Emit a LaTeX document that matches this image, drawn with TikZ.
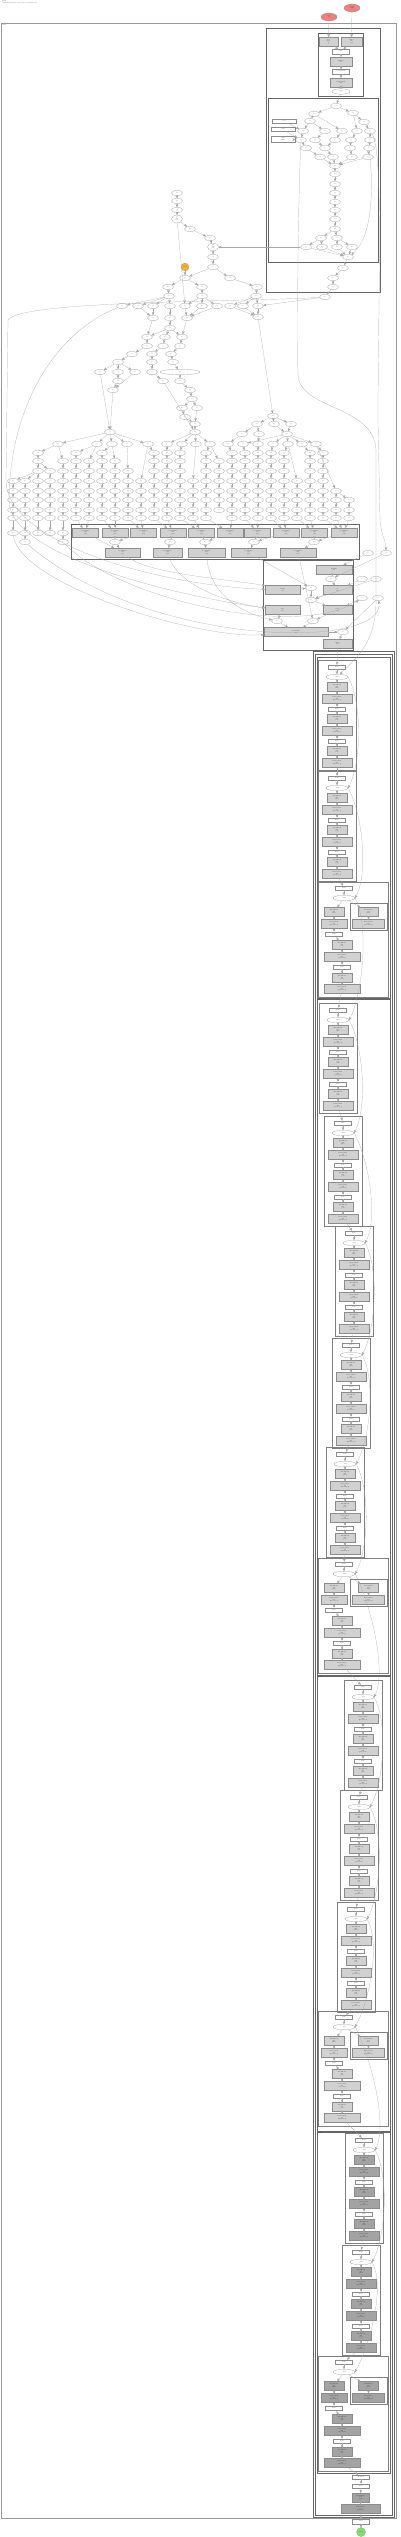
\documentclass[tikz,border=0pt]{standalone}
\usetikzlibrary{arrows,shapes.geometric}
\definecolor{incol}{HTML}{F08080}
\definecolor{outcol}{HTML}{7FE06A}
\definecolor{savecol}{HTML}{F2B233}
\tikzset{
  tiny/.style={font=\fontsize{1.2}{1.4}\selectfont},
  op/.style={ellipse,draw=black!45,line width=.2pt,fill=white,inner sep=0pt,
    minimum width=11pt,minimum height=5.5pt,tiny,align=center},
  tag/.style={rectangle,draw=black!45,line width=.2pt,fill=white,inner sep=0pt,
    minimum width=17pt,minimum height=4.5pt,tiny,align=center},
  par/.style={rectangle,draw=black!45,line width=.2pt,fill=black!18,inner sep=0pt,
    minimum width=20pt,minimum height=9pt,tiny,align=center},
  wire/.style={->,>=stealth',draw=black!35,line width=.2pt},
  group/.style={draw=black!60,line width=.35pt},
  frame/.style={draw=black!40,line width=.9pt},
  glabel/.style={anchor=north west,inner sep=.4pt,tiny}
}
\begin{document}
\begin{tikzpicture}[x=1pt,y=-1pt]
\useasboundingbox (0,0) rectangle (400,2537);

\node[glabel,align=left] (title) at (1.5,0.5) {graph\\computation graph of the model, backward pass};

% frames
\draw[frame] (1,23) rectangle (396,2518);
\node[glabel] (lmain) at (2,24) {main};
\draw[group] (266,28) rectangle (380,292);
\node[glabel] (lc1) at (266,28) {loss};
\draw[group] (318,33) rectangle (363,96);
\node[glabel] (ls1) at (318,33) {criterion};
\draw[group] (268,98) rectangle (378,262);
\node[glabel] (lc2) at (268,98) {head};
\draw[group] (71,524) rectangle (359,559);
\node[glabel] (lh) at (71,524) {params};
\draw[group] (263,560) rectangle (353,650);
\node[glabel] (lr) at (263,560) {fc};
\draw[group] (313,651) rectangle (394,2517);
\draw[group] (315,654) rectangle (392,2515);
\foreach \ya/\yb/\nm in {657/998/layer4, 999.5/1675/layer3, 1676.5/2131/layer2, 2132.5/2473/layer1}{
  \draw[group] (317,\ya) rectangle (390,\yb);
  \node[glabel] (l\nm) at (317,\ya) {\nm};
}

% inputs
\node[op,fill=incol,minimum width=16pt,minimum height=8pt] (inA) at (352,8) {target\\(64)};
\node[op,fill=incol,minimum width=16pt,minimum height=8pt] (inB) at (329,17) {loss\\()};

% criterion
\node[par,minimum width=19pt] (sp1) at (328.5,41.5) {grad\\f32\\()};
\node[par,minimum width=21pt] (sp2) at (351.5,41.5) {target\\i64\\(64)};
\node[tag] (sw1) at (341,51.5) {Nll};
\node[par,minimum width=22pt] (sp3) at (341,61.5) {NllLoss\\f32};
\node[tag] (sw2) at (341,71.5) {LogSoftmax};
\node[par,minimum width=22pt] (sp4) at (341,82.5) {LogSoftmax\\f32};
\node[op,minimum width=18pt] (se1) at (341,91.5) {logits};

% head nodes
\foreach \n/\x/\y in {z1/336/106, z2/314/114, z3/353/113, z4/310/121, z5/364/122,
  z6/303/131, z7/325/131, z8/342/131, z9/357/131, z10/370/131,
  z11/301/140, z12/315/140, z13/335/140, z14/351/140, z15/370/140,
  z16/306/148, z17/325/148, z18/350/148, z19/369/148,
  z20/320/157, z21/333/157, z22/352/157, z23/368/157,
  z24/335/166, z25/335/174, z26/335/184, z27/335/193, z28/335/202,
  z29/335/210, z30/335/219, z31/335/229, z32/321/238, z33/337/238,
  z34/306/247, z35/322/247, z36/337/247, z37/352/247, z38/348/257,
  y1/343/268, y2/333/278, y3/333/287, cout/325/297}
  \node[op] (\n) at (\x,\y) {op};
\node[tag,minimum width=24pt,minimum height=4pt] (zb1) at (284,121) {const};
\node[tag,minimum width=24pt,minimum height=4pt] (zb2) at (283,129.5) {const};
\node[tag,minimum width=24pt,minimum height=6pt] (zb3) at (283,139) {const\\mask};

\foreach \a/\b in {inB/sp1, inA/sp2, sp1/sw1, sp2/sw1, sw1/sp3, sp3/sw2, sw2/sp4, sp4/se1, se1/z1,
  z1/z2, z1/z3, z2/z4, z3/z5, z4/z6, z4/z7, z2/z8, z3/z9, z5/z10, zb1/z6, zb2/z11, zb3/z11,
  z6/z11, z7/z12, z8/z13, z9/z14, z10/z15, z11/z16, z12/z17, z13/z17, z14/z18, z15/z19,
  z16/z20, z17/z21, z18/z22, z19/z23, z20/z24, z21/z24, z22/z24, z23/z24,
  z24/z25, z25/z26, z26/z27, z27/z28, z28/z29, z29/z30, z30/z31, z31/z32, z31/z33,
  z32/z34, z32/z35, z33/z36, z33/z37, z34/z38, z35/z38, z36/z38, z37/z38,
  z38/y1, y1/y2, y2/y3, y3/cout}
  \draw[wire] (\a) -- (\b);

% main graph
\foreach \n/\x/\y in {in1/177/193, in2/177/201, in3/177/210, s1/190/229, s2/210/238,
  s4/213/257, s5/213/267, t1/185/278, t2/230/278, u1/168/287, u2/202/287, u3/257/287,
  v1/169/296, v2/202/296, v3/256/296, f1/122/306, f2/138/306, f3/153/306, f4/170/306,
  f5/185/306, f6/202/306, f7/217/306, f8/230/306, f9/243/306, f10/258/306,
  g1/153/318, g2/170/318, g3/187/318, g4/258/317, h1/170/328,
  i1/147/337, i2/165/337, i3/182/337, j1/147/346, j2/163/346, j3/180/346,
  k1/132/354, k2/152/354, k3/171/354, l1/118/362, l2/152/362, l3/173/362,
  m1/100/372, m2/118/372, m3/135/372, m4/152/372, n1/118/381, n2/163/381, n3/180/381,
  o1/113/390, o2/190/390, p1/192/399, q1/182/408, q2/197/408, r1/185/417, x1/195/424,
  ma/110/432, mb/195/432, ra/273/416, rb/257/424, rc/274/424, rd/291/424,
  re/242/434, rf/259/434, mc/287/434}
  \node[op] (\n) at (\x,\y) {op};
\node[op,minimum height=8pt] (in4) at (177,219) {op\\f32\\(64)};
\node[op,minimum height=8pt] (s3) at (213,247) {op\\f32\\(64)};
\node[op,minimum width=40pt] (m5) at (180,372) {op};
\node[circle,draw=black!45,line width=.2pt,fill=savecol,minimum size=8pt,inner sep=0pt,tiny] (w0) at (185,267) {saved};

\foreach \a/\b in {in1/in2, in2/in3, in3/in4, in4/s1, s1/s2, s2/s3, s3/s4, s4/s5, s5/t1, s5/t2,
  w0/t1, t1/u1, t1/u2, t2/u3, u1/v1, u2/v2, u3/v3, v1/f1, v1/f2, v1/f3, v1/f4, v2/f5, v2/f6,
  v2/f7, v3/f8, v3/f9, v3/f10, in4/f5, f2/g1, f3/g1, f4/g2, f5/g3, f6/g3, f7/g3, f8/g4, f9/g4,
  f10/g4, g2/h1, g1/i1, g3/i3, h1/i1, h1/i2, h1/i3, i1/j1, i2/j2, i3/j3, j1/k1, j2/k2, j3/k3,
  k1/l1, k2/l2, k3/l3, l1/m1, l1/m2, l1/m3, l2/m4, l3/m5, m2/n1, m4/n2, m5/n3, n1/o1, m3/o1,
  n3/o2, o2/p1, p1/q1, p1/q2, q1/r1, r1/x1, q2/x1, o1/ma, m1/ma, x1/mb, n2/mb,
  g4/ra, ra/rb, ra/rc, ra/rd, rb/re, rb/rf, rc/mc, rd/mc, z34/s3, cout/f10}
  \draw[wire] (\a) -- (\b);

% heads and columns
\foreach \x in {58,97,112,127,148,167,182,196,210,228,243,258,273,288,302,316}
  \node[op] (h\x) at (\x,444) {op};
\foreach \a/\b in {ma/h58, ma/h97, ma/h112, ma/h127, ma/h148, mb/h167, mb/h182, mb/h196,
  mb/h210, re/h228, mc/h243, rf/h258, mc/h273, mc/h288, mc/h302, mc/h316}
  \draw[wire] (\a) -- (\b);

\def\rowy{{444,453,461,471,481,491,500,510,518,533,542}}
\foreach \cc/\pp/\ss/\ee in {38/h58/1/9, 13/c38-3/4/9, 25/c38-3/4/10, 50/c38-2/3/9, 63/h58/2/10,
  76/h97/1/8, 89/h97/2/8, 102/h112/1/8, 115/h112/2/8, 128/h127/3/8, 141/h148/4/8,
  154/h148/1/8, 167/h167/1/8, 180/h182/1/8, 193/h196/4/8, 206/h210/1/8, 219/h210/2/7,
  232/h228/1/8, 245/h243/1/8, 258/h258/1/8, 271/h273/1/8, 284/h288/1/8, 297/h288/4/8,
  310/h302/1/8, 323/h316/1/8, 336/h316/5/8, 349/c336-5/6/8}{
  \foreach \ii [remember=\ii as \jj (initially 0)] in {\ss,...,\ee}{
    \pgfmathsetmacro\yy{\rowy[\ii]}
    \node[op] (c\cc-\ii) at (\cc,\yy) {op};
    \ifnum\ii=\ss\relax
      \draw[wire] (\pp) -- (c\cc-\ii);
    \else
      \draw[wire] (c\cc-\jj) -- (c\cc-\ii);
    \fi
  }
}

% parameter group
\foreach \ii/\x in {1/85.5,2/115,3/143.5,4/173,5/201.5,6/230,7/257.5,8/286,9/314.5,10/344}
  \node[par,minimum width=26pt] (ht\ii) at (\x,532.5) {Accumulate\\f32\\(64)};
\foreach \ii/\x in {1/115,2/170,3/205,4/254,5/314}
  \node[op] (he\ii) at (\x,542) {op};
\foreach \ii/\x/\ww in {1/122.5/35,2/167.5/29,3/206.5/37,4/248.5/35,5/298/36}
  \node[par,minimum width=\ww pt] (hb\ii) at (\x,552.5) {Accumulate\\f32\\(64)};
\foreach \a/\b in {76/1,89/1,102/2,115/2,128/3,141/3,154/4,167/4,180/5,193/5,206/6,232/6,
  245/7,258/7,271/8,284/8,297/9,310/9,323/10,336/10,349/10}
  \draw[wire] (c\a-8) -- (ht\b);
\foreach \a/\b in {ht1/hb1, ht2/he1, ht3/he1, he1/hb1, ht4/he2, he2/hb2, ht5/he3, ht6/he3,
  he3/hb3, ht7/he4, ht8/he4, he4/hb4, ht9/he5, ht10/he5, he5/hb5}
  \draw[wire] (\a) -- (\b);

% fc group
\node[par,minimum width=36pt] (rg1) at (334,569.5) {Addmm\\f32};
\node[op] (rl1) at (331,579) {op};
\node[par,minimum width=35pt] (rg2) at (282.5,590) {weight\\f32};
\node[op] (rl2) at (311,588) {op};
\node[par,minimum width=29pt] (rg3) at (337.5,590) {T\\f32};
\node[op] (rl3) at (311,600) {op};
\node[par,minimum width=35pt] (rg4) at (282.5,610) {bias\\f32};
\node[par,minimum width=29pt] (rg5) at (337.5,610) {View\\f32};
\node[op] (rl4) at (277,621) {op};
\node[op] (rl5) at (313,621) {op};
\node[par,minimum width=64pt] (rg6) at (296,632) {Accumulate\\f32};
\node[op] (rl6) at (343,632) {op};
\node[par,minimum width=29pt] (rg7) at (337.5,643.5) {Mean\\f32};
\foreach \n/\x/\y in {rq1/368/553, rq2/386/553, rq3/362/579, rq4/376/579, rq5/362/598, rq6/378/598}
  \node[op] (\n) at (\x,\y) {op};
\foreach \a/\b in {rg1/rl1, rl1/rg3, rg3/rl3, rg2/rl2, rl2/rl3, rl3/rg5, rg4/rl4, rg5/rl5,
  rl4/rg6, rl5/rg6, rg6/rl6, rl6/rg7, rq1/rg1, rq2/rl1, rq3/rg3, rq4/rl3, rq5/rg5, rq6/rl6}
  \draw[wire] (\a) -- (\b);

% bottleneck blocks
\foreach \bt/\bk/\bx/\bl/\br [remember=\bt as \bp (initially 0)] in {660/0/337/318/356,
  771/0/337/318/356, 882/1/334/318/388, 1003/0/338/319/357, 1116/0/343/324/362,
  1226/0/354/335/373, 1338/0/351/332/370, 1447/0/345/326/364, 1558/1/334/318/388,
  1680/0/363/344/382, 1790/0/359/340/378, 1902/0/356/337/375, 2011/1/334/318/388,
  2133/0/364/345/383, 2245/0/361/342/380, 2356/1/334/318/388}{
  \ifnum\bt>2130\relax \def\gl{36}\else \def\gl{18}\fi
  \ifnum\bk=0\relax
    \draw[group,black!50] (\bl,\bt) rectangle (\br,\bt+110);
    \node[tag] (b\bt-1) at (\bx,\bt+7) {Relu};
    \node[op,minimum width=22pt] (b\bt-2) at (\bx,\bt+17) {Add};
    \node[par,fill=black!\gl] (b\bt-3) at (\bx,\bt+27) {BatchNorm\\f32\\(256)};
    \node[par,fill=black!\gl,minimum width=30pt] (b\bt-4) at (\bx,\bt+39) {Convolution\\f32\\(256,64,1,1)};
    \node[tag] (b\bt-5) at (\bx,\bt+49) {Relu};
    \node[par,fill=black!\gl] (b\bt-6) at (\bx,\bt+59) {BatchNorm\\f32\\(64)};
    \node[par,fill=black!\gl,minimum width=30pt] (b\bt-7) at (\bx,\bt+71) {Convolution\\f32\\(64,64,3,3)};
    \node[tag] (b\bt-8) at (\bx,\bt+81) {Relu};
    \node[par,fill=black!\gl] (b\bt-9) at (\bx,\bt+91) {BatchNorm\\f32\\(64)};
    \node[par,fill=black!\gl,minimum width=30pt] (b\bt-10) at (\bx,\bt+103) {Convolution\\f32\\(64,256,1,1)};
  \else
    \draw[group,black!50] (\bl,\bt) rectangle (\br,\bt+115);
    \draw[group,black!50] (\bx+16,\bt+21) rectangle (\bx+53,\bt+48);
    \node[tag] (b\bt-1) at (\bx+10,\bt+6) {Relu};
    \node[op,minimum width=22pt] (b\bt-2) at (\bx+10,\bt+16) {Add};
    \node[par,fill=black!\gl] (b\bt-3) at (\bx,\bt+30) {BatchNorm\\f32\\(256)};
    \node[par,fill=black!\gl,minimum width=26pt] (b\bt-4) at (\bx,\bt+42) {Convolution\\f32\\(256,64,1,1)};
    \node[par,fill=black!\gl] (b\bt-s1) at (\bx+34.5,\bt+30) {BatchNorm\\f32\\(256)};
    \node[par,fill=black!\gl,minimum width=32pt] (b\bt-s2) at (\bx+34.5,\bt+42) {Convolution\\f32\\(256,128,1,1)};
    \node[tag] (b\bt-5) at (\bx,\bt+52) {Relu};
    \node[par,fill=black!\gl] (b\bt-6) at (\bx+8,\bt+63) {BatchNorm\\f32\\(64)};
    \node[par,fill=black!\gl,minimum width=36pt] (b\bt-7) at (\bx+8,\bt+75) {Convolution\\f32\\(64,64,3,3)};
    \node[tag] (b\bt-8) at (\bx+8,\bt+85) {Relu};
    \node[par,fill=black!\gl] (b\bt-9) at (\bx+8,\bt+96) {BatchNorm\\f32\\(64)};
    \node[par,fill=black!\gl,minimum width=36pt] (b\bt-10) at (\bx+8,\bt+107) {Convolution\\f32\\(128,64,1,1)};
    \draw[wire] (b\bt-2) -- (b\bt-s1);
    \draw[wire] (b\bt-s1) -- (b\bt-s2);
  \fi
  \foreach \ii [remember=\ii as \jj (initially 1)] in {2,...,10}
    \draw[wire] (b\bt-\jj) -- (b\bt-\ii);
  \ifnum\bp>0\relax
    \draw[wire] (b\bp-10) -- (b\bt-1);
    \draw[wire] (b\bp-2.east) .. controls +(14,25) and +(14,-25) .. (b\bt-2.east);
  \fi
}

% tail
\node[tag] (tail1) at (361,2477) {MaxPool};
\node[tag] (tail2) at (361,2486) {Relu};
\node[par,fill=black!36,minimum width=17pt] (tail3) at (360.5,2497.5) {BatchNorm\\f32\\(64)};
\node[par,fill=black!36,minimum width=39pt] (tail4) at (360.5,2509) {Convolution\\f32\\(64,3,7,7)};
\node[tag] (tail5) at (361,2521.5) {input};
\node[circle,draw=black!45,line width=.2pt,fill=outcol,minimum size=9pt,inner sep=0pt,tiny] (fin) at (361,2532) {image};
\foreach \a/\b in {b2356-10/tail1, tail1/tail2, tail2/tail3, tail3/tail4, tail4/tail5, tail5/fin}
  \draw[wire] (\a) -- (\b);

% long connectors
\draw[wire] (rg7) -- (b660-1);
\draw[wire] (z11) .. controls (298,200) and (297,330) .. (298,375)
  .. controls (300,410) and (374,405) .. (376,450) -- (376,600)
  .. controls (376,640) and (360,655) .. (b660-2);
\draw[wire] (z19) .. controls (374,190) and (372,240) .. (z38);
\draw[wire] (z10) .. controls (384,150) and (378,300) .. (378,420) -- (380,520)
  .. controls (381,535) and (386,540) .. (rq2);
\draw[wire] (cout) .. controls (250,302) and (20,300) .. (8,320) -- (6,480)
  .. controls (5,540) and (150,585) .. (rg2);
\draw[wire] (f1) .. controls (60,330) and (10,400) .. (9,500)
  .. controls (8,560) and (200,600) .. (rg4);
\draw[wire] (c13-9) .. controls (20,585) and (200,640) .. (rg6);
\draw[wire] (c25-10) .. controls (150,650) and (390,650) .. (rq6);
\draw[wire] (hb1) .. controls (150,575) and (240,580) .. (rg2);
\draw[wire] (hb2) .. controls (180,590) and (240,605) .. (rg4);
\draw[wire] (hb3) .. controls (210,600) and (250,615) .. (rl4);
\draw[wire] (hb4) -- (rl2);
\draw[wire] (hb5) -- (rl5);
\draw[wire] (c63-10) .. controls (120,600) and (300,640) .. (rq5);
\end{tikzpicture}
\end{document}
